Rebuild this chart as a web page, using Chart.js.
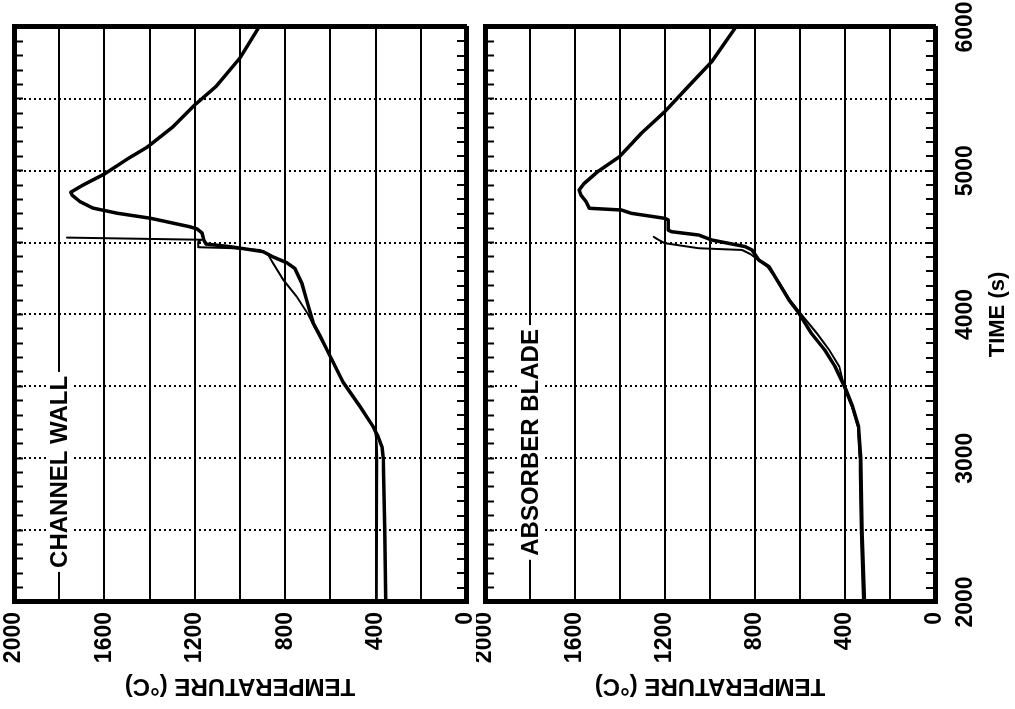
<!DOCTYPE html>
<html>
<head>
<meta charset="utf-8">
<script src="https://cdn.jsdelivr.net/npm/chart.js@4.4.1/dist/chart.umd.min.js"></script>
<style>
  html, body { margin: 0; padding: 0; background: #fff; overflow: hidden; }
  /* figure is drawn upright, then turned a quarter turn like the scan */
  #wrap { position: absolute; left: 0; top: 0; width: 709px; height: 1015px;
          transform-origin: 0 0; transform: translate(0, 709px) rotate(-90deg); }
  #wrap canvas { position: absolute; left: 0; }
</style>
</head>
<body>
<div id="wrap">
  <canvas id="wallChart" width="709" height="476" style="top:0"></canvas>
  <canvas id="bladeChart" width="709" height="539" style="top:476px"></canvas>
</div>
<script>
const timeMin = 2000, timeMax = 6000;
const tempMin = 0, tempMax = 2000;
const panelNames = ["CHANNEL WALL", "ABSORBER BLADE"];
const panelLabelTime = [2905, 3110];
const panelLabelTemp = 1800;

// channel wall
const wallTimeA = [2000, 2500, 3000, 3080, 3150, 3200, 3220, 3360, 3530, 3690, 3850, 3940, 4100, 4220, 4320, 4360, 4400, 4437, 4455, 4472, 4490, 4518, 4567, 4595, 4610, 4670, 4705, 4740, 4785, 4830, 4850, 4900, 4980, 5086, 5165, 5308, 5460, 5587, 5785, 6000];
const wallTempA = [355, 359, 366, 372, 389, 405, 411, 469, 544, 595, 645, 676, 705, 727, 757, 793, 853, 897, 971, 1044, 1150, 1160, 1168, 1190, 1221, 1398, 1545, 1650, 1708, 1743, 1749, 1695, 1597, 1494, 1410, 1295, 1199, 1106, 1000, 916];
const wallTimeB = [2000, 2500, 3000, 3100, 3170, 3220, 3360, 3530, 3690, 3850, 4000, 4124, 4240, 4356, 4414, 4449, 4462, 4468, 4505, 4520, 4535];
const wallTempB = [395, 394, 393, 395, 400, 411, 469, 544, 593, 650, 698, 749, 808, 853, 875, 912, 1044, 1185, 1185, 1170, 1765];

// absorber blade
const bladeTimeA = [2000, 2500, 3000, 3220, 3360, 3475, 3640, 3753, 3870, 4008, 4101, 4217, 4333, 4379, 4449, 4472, 4518, 4553, 4576, 4588, 4658, 4669, 4704, 4727, 4739, 4785, 4831, 4866, 4912, 4994, 5098, 5261, 5411, 5587, 5759, 6000];
const bladeTempA = [313, 324, 330, 340, 366, 395, 445, 490, 550, 604, 649, 693, 738, 783, 813, 843, 992, 1051, 1171, 1186, 1186, 1201, 1350, 1394, 1536, 1551, 1574, 1582, 1559, 1499, 1402, 1305, 1201, 1096, 992, 885];
const bladeTimeB = [2000, 2500, 3000, 3220, 3360, 3475, 3637, 3753, 3869, 4008, 4101, 4217, 4333, 4379, 4420, 4449, 4461, 4496, 4525, 4540];
const bladeTempB = [320, 330, 336, 342, 370, 400, 425, 470, 525, 598, 645, 690, 745, 785, 820, 858, 1051, 1201, 1235, 1250];

const FONT = '"Liberation Sans", Arial, sans-serif';
const toPoints = (ts, vs) => ts.map((t, i) => ({ x: t, y: vs[i] }));

// panel name sitting on the 1800 line, on a white patch
const panelLabel = {
    id: "panelLabel",
    afterDatasetsDraw(chart, args, opts) {
        const { ctx, scales } = chart;
        const px = scales.x.getPixelForValue(opts.time);
        const py = scales.y.getPixelForValue(panelLabelTemp);
        ctx.save();
        ctx.font = "bold 24px " + FONT;
        const w = ctx.measureText(opts.text).width;
        ctx.fillStyle = "#fff";
        ctx.fillRect(px - w / 2 - 4, py - 12, w + 8, 24);
        ctx.fillStyle = "#000";
        ctx.textAlign = "center";
        ctx.textBaseline = "middle";
        ctx.fillText(opts.text, px, py + 1);
        ctx.restore();
    }
};

function makeChart(id, idx, timesA, tempsA, timesB, tempsB, isBottom) {
    return new Chart(document.getElementById(id), {
        type: "line",
        data: {
            datasets: [
                { data: toPoints(timesA, tempsA), borderColor: "#000", borderWidth: 3.5 },
                { data: toPoints(timesB, tempsB), borderColor: "#000", borderWidth: 2 }
            ]
        },
        options: {
            responsive: false,
            animation: false,
            layout: { padding: { top: isBottom ? 9 : 14, right: 27, bottom: isBottom ? 0 : 10, left: 0 } },
            elements: {
                point: { radius: 0 },
                line: { tension: 0, borderJoinStyle: "round", borderCapStyle: "round" }
            },
            scales: {
                x: {
                    type: "linear", position: "bottom", min: timeMin, max: timeMax,
                    ticks: {
                        display: isBottom, stepSize: 100, autoSkip: false, maxRotation: 0, minRotation: 0,
                        padding: 26, color: "#000",
                        font: { family: FONT, size: 23, weight: "bold" },
                        callback: v => v % 1000 === 0 ? v : ""
                    },
                    grid: {
                        color: c => (c.tick && c.tick.value % 500 === 0) ? "#000" : "rgba(0,0,0,0)",
                        lineWidth: 2, drawTicks: true, tickLength: -9, tickColor: "#000", tickWidth: 2
                    },
                    border: { display: true, color: "#000", width: 5, dash: [2, 3] },
                    title: {
                        display: isBottom, text: "TIME (s)", color: "#000",
                        font: { family: FONT, size: 22, weight: "bold" },
                        padding: { top: 0, bottom: 4 }
                    },
                    afterFit: s => { s.height = isBottom ? 80 : 0; s.paddingLeft = 0; s.paddingRight = 0; }
                },
                x2: {
                    type: "linear", position: "top", min: timeMin, max: timeMax,
                    ticks: { display: false, stepSize: 100 },
                    grid: { drawOnChartArea: false, drawTicks: true, tickLength: -9, tickColor: "#000", tickWidth: 2, color: "#000" },
                    border: { display: true, color: "#000", width: 5 },
                    afterFit: s => { s.height = 0; s.paddingLeft = 0; s.paddingRight = 0; }
                },
                y: {
                    type: "linear", position: "left", min: tempMin, max: tempMax,
                    ticks: {
                        stepSize: 200, autoSkip: false, padding: 10, color: "#000",
                        font: { family: FONT, size: 23, weight: "bold" },
                        callback: v => v % 400 === 0 ? v : ""
                    },
                    grid: { color: "#000", lineWidth: 2, drawTicks: false },
                    border: { display: true, color: "#000", width: 5 },
                    title: {
                        display: true, text: "TEMPERATURE (°C)", color: "#000",
                        font: { family: FONT, size: 24, weight: "bold" },
                        padding: { top: 9, bottom: 0 }
                    },
                    afterFit: s => { s.width = 107; s.paddingTop = 0; s.paddingBottom = 0; }
                },
                y2: {
                    type: "linear", position: "right", min: tempMin, max: tempMax,
                    ticks: { display: false },
                    grid: { display: false },
                    border: { display: true, color: "#000", width: 5 },
                    afterFit: s => { s.width = 0; s.paddingTop = 0; s.paddingBottom = 0; }
                }
            },
            plugins: {
                legend: { display: false },
                tooltip: { enabled: false },
                panelLabel: { text: panelNames[idx], time: panelLabelTime[idx] }
            }
        },
        plugins: [panelLabel]
    });
}

makeChart("wallChart", 0, wallTimeA, wallTempA, wallTimeB, wallTempB, false);
makeChart("bladeChart", 1, bladeTimeA, bladeTempA, bladeTimeB, bladeTempB, true);
</script>
</body>
</html>
